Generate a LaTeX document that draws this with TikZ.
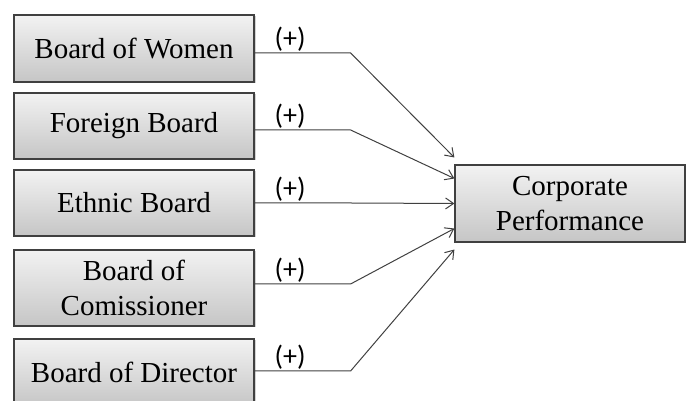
\documentclass[tikz,border=0pt]{standalone}
\usepackage{fontspec}
\setmainfont{Liberation Serif}
\newfontfamily\signfont{Carlito}
\usetikzlibrary{arrows.meta,shadows}

\tikzset{
	factor/.style={draw=black!75, line width=1.2pt, top color=gray!10, bottom color=gray!45,
		minimum width=240pt, align=center, inner sep=0pt,
		font=\fontsize{29}{35}\selectfont,
		drop shadow={shadow xshift=1.5pt, shadow yshift=-1.5pt, opacity=0.35}},
	link/.style={draw=black!75, line width=1pt, -{Straight Barb[length=8pt,width=11pt]}},
	sign/.style={font=\signfont\fontsize{28}{28}\selectfont, pos=0.37, above, inner sep=1pt}
}

\begin{document}
\begin{tikzpicture}[x=1pt, y=1pt]
		\useasboundingbox (0, 0) rectangle (686, 401);
		% the factors on the left
		\node[factor, minimum height=67pt] (women) at (134, 352.5) {Board of Women};
		\node[factor, minimum height=66pt] (foreign) at (134, 275) {Foreign Board};
		\node[factor, minimum height=66pt] (ethnic) at (134, 198) {Ethnic Board};
		\node[factor, minimum height=76pt] (comm) at (134, 113) {Board of\\Comissioner};
		\node[factor, minimum height=67pt] (director) at (134, 28.5) {Board of Director};
		% the outcome
		\node[factor, minimum width=230pt, minimum height=77pt] (perf) at (570, 197.5) {Corporate\\Performance};
		% the links, each with its sign
		\draw[link] ([yshift=-4.5pt]women.east) -- node[sign] {(+)} ++(96, 0) -- ([yshift=46pt]perf.west);
		\draw[link] ([yshift=-4pt]foreign.east) -- node[sign] {(+)} ++(96, 0) -- ([yshift=25pt]perf.west);
		\draw[link] (ethnic.east) -- node[sign] {(+)} ++(96, 0) -- (perf.west);
		\draw[link] ([yshift=4pt]comm.east) -- node[sign] {(+)} ++(96, 0) -- ([yshift=-25pt]perf.west);
		\draw[link] ([yshift=1.5pt]director.east) -- node[sign] {(+)} ++(96, 0) -- ([yshift=-46pt]perf.west);
	\end{tikzpicture}
\end{document}
